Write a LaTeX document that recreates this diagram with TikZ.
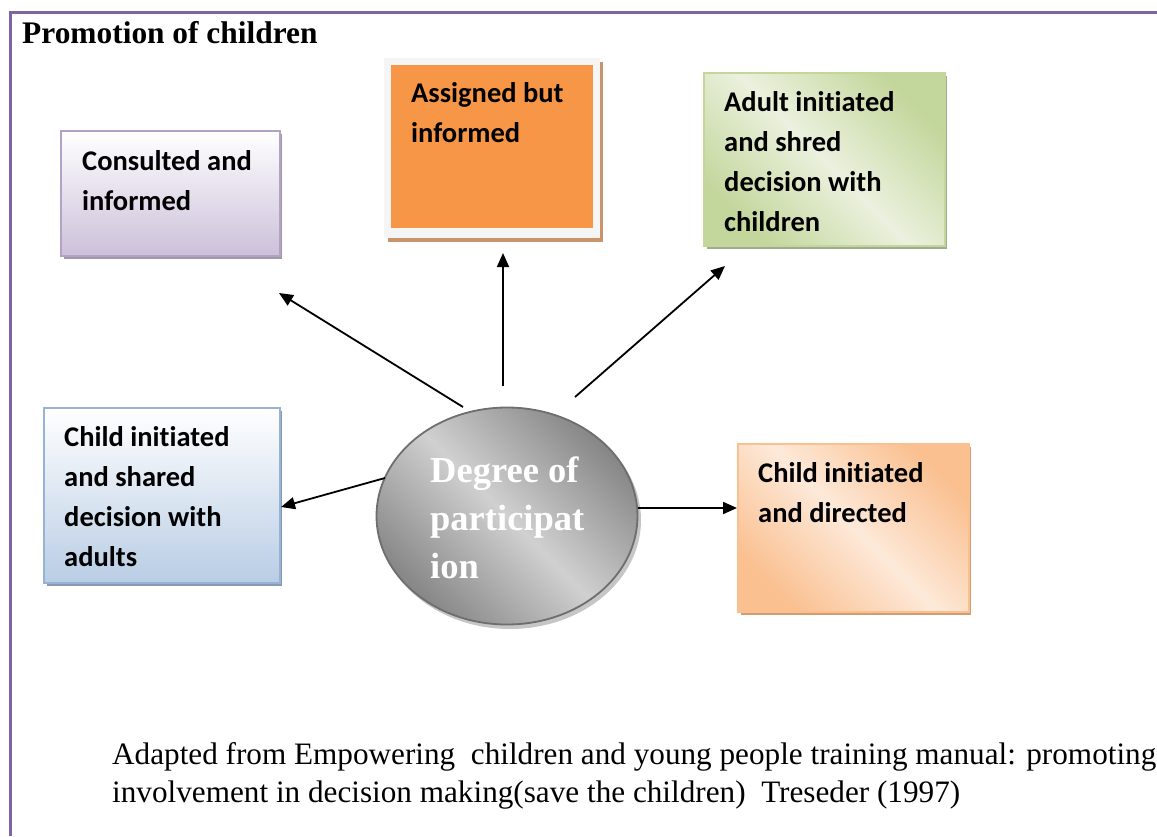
\documentclass[tikz,border=0pt]{standalone}
\usepackage{fontspec}
\setmainfont{Liberation Serif}
\newfontfamily\boxfont[Ligatures={NoCommon}]{Carlito}
\usetikzlibrary{arrows.meta,shapes.geometric,shadows}
\definecolor{framepurple}{HTML}{8064A2}
\definecolor{lilacb}{HTML}{B3A2C7}
\definecolor{lilac}{HTML}{CCC0DA}
\definecolor{orangef}{HTML}{F79646}
\definecolor{tanshadow}{HTML}{C8946C}
\definecolor{greenb}{HTML}{C3D69B}
\definecolor{greenl}{HTML}{EBF1DE}
\definecolor{blueb}{HTML}{95B3D7}
\definecolor{bluef}{HTML}{B9CDE5}
\definecolor{peachb}{HTML}{FAC090}
\definecolor{peachl}{HTML}{FDE9D9}
\definecolor{elldark}{HTML}{868686}
\definecolor{elllight}{HTML}{D0D0D0}
\definecolor{ellborder}{HTML}{6E6E6E}
\tikzset{
  boxtxt/.style={font={\boxfont\bfseries\fontsize{28.5pt}{40pt}\selectfont}, align=left, inner sep=0pt, anchor=north west},
  card/.style={anchor=north west, inner sep=0pt, line width=2pt},
  conn/.style={line width=1.8pt, -{Triangle[length=14pt,width=12pt]}},
}
\begin{document}
\begin{tikzpicture}[x=1pt,y=-1pt]
\useasboundingbox (0,0) rectangle (1157,836);
% frame
\draw[framepurple, line width=3pt] (1157,12) -- (10,12) -- (10,836);
\node[anchor=north west, inner sep=0pt, font={\bfseries\fontsize{31.4pt}{36pt}\selectfont}] (title) at (22,21) {Promotion of children};

% box 1 consulted
\fill[gray!60!lilac] (64,134) rectangle (282,259);
\node[card, draw=lilacb, top color=white, bottom color=lilac, minimum width=219pt, minimum height=125pt] (b1) at (60,130) {};
\node[boxtxt] (t1) at (82,150) {Consulted and\\informed};

% box 2 assigned
\fill[tanshadow] (388,62) rectangle (603,242);
\node[anchor=north west, inner sep=0pt, fill=gray!8, minimum width=216pt, minimum height=180pt] (b2o) at (384,58) {};
\node[anchor=north west, inner sep=0pt, fill=orangef, minimum width=202pt, minimum height=163pt] (b2) at (391,65) {};
\node[boxtxt] (t2) at (411,82) {Assigned but\\informed};

% box 3 adult
\fill[gray!50!greenb] (707,76) rectangle (947,249);
\node[card, draw=greenb, left color=greenb, right color=greenb, middle color=greenl, shading angle=-45, minimum width=241pt, minimum height=173pt] (b3) at (703,72) {};
\node[boxtxt] (t3) at (724,91) {Adult initiated\\and shred\\decision with\\children};

% box 4 child shared
\fill[gray!50!blueb] (47,411) rectangle (282,586);
\node[card, draw=blueb, top color=white, bottom color=bluef, minimum width=236pt, minimum height=175pt] (b4) at (43,407) {};
\node[boxtxt] (t4) at (64,426) {Child initiated\\and shared\\decision with\\adults};

% box 5 child directed
\fill[tanshadow!80!peachb] (741,447) rectangle (971,615);
\node[card, draw=peachb, left color=peachb, right color=peachb, middle color=peachl, shading angle=-45, minimum width=231pt, minimum height=168pt] (b5) at (737,443) {};
\node[boxtxt] (t5) at (758,462) {Child initiated\\and directed};

% centre ellipse
\fill[gray!45] (510,520) ellipse [x radius=131pt, y radius=109pt];
\node[ellipse, draw=ellborder, line width=1.8pt, left color=elldark, right color=elldark, middle color=elllight, shading angle=-45, minimum width=261pt, minimum height=217pt, inner sep=0pt] (c) at (507,516) {};
\node[anchor=north west, inner sep=0pt, align=left, text=white, font={\bfseries\fontsize{36.5pt}{48pt}\selectfont}] (ct) at (430,457) {Degree of\\participat\\ion};

% connectors
\coordinate (s1) at (463,407); \coordinate (e1) at (279,293);
\coordinate (s2) at (503,386); \coordinate (e2) at (503,253);
\coordinate (s3) at (575,397); \coordinate (e3) at (725,266);
\coordinate (s4) at (385,478); \coordinate (e4) at (281,507);
\coordinate (s5) at (638,508); \coordinate (e5) at (737,508);
\draw[conn] (s1) -- (e1);
\draw[conn] (s2) -- (e2);
\draw[conn] (s3) -- (e3);
\draw[conn] (s4) -- (e4);
\draw[conn] (s5) -- (e5);

% footnote
\node[anchor=north west, inner sep=0pt, align=left, font={\fontsize{31.2pt}{38pt}\selectfont}] (fn) at (112,742) {Adapted from Empowering\ \ children and young people training manual: promoting\\involvement in decision making(save the children)\ \ Treseder (1997)};
\end{tikzpicture}
\end{document}
